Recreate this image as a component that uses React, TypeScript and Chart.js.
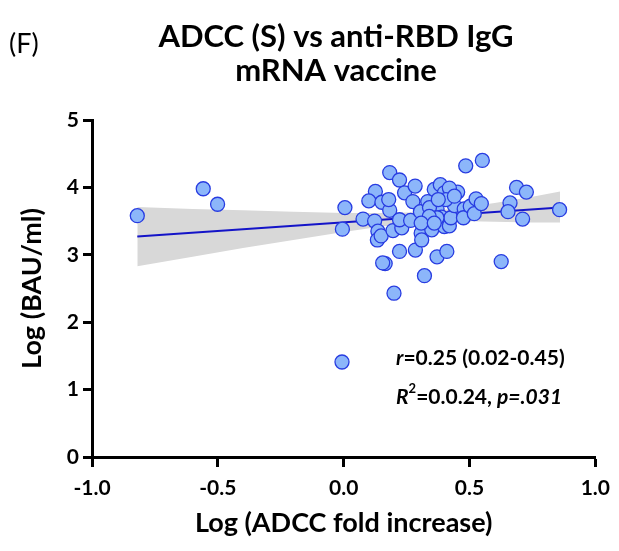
import React, { useEffect, useRef } from "react";
import { Chart, registerables } from "chart.js";

Chart.register(...registerables);

// ---- data ----
const adccX = [
  0.005, -0.005, 0.077, 0.126, 0.10, 0.123, 0.152, 0.183, 0.179, 0.136,
  0.134, 0.149, 0.183, 0.222, 0.242, 0.284, 0.275, 0.196, 0.231, 0.222,
  0.266, 0.222, 0.285, 0.165, 0.155, 0.20, 0.321, 0.371, 0.41, 0.308,
  0.31, 0.305, 0.334, 0.36, 0.384, 0.40, 0.371, 0.341, 0.35, 0.389,
  0.40, 0.42, 0.426, 0.44, 0.453, 0.42, 0.406, 0.479, 0.476, 0.503,
  0.519, 0.526, 0.547, 0.485, 0.551, 0.626, 0.661, 0.653, 0.687, 0.726,
  0.711, 0.858, 0.341, 0.376, 0.371, 0.44, 0.34, 0.308, 0.36, -0.82,
  -0.558, -0.501,
];
const igGY = [
  3.70, 3.38, 3.53, 3.94, 3.80, 3.50, 3.78, 3.66, 3.82, 3.35,
  3.22, 3.28, 4.22, 4.11, 3.92, 4.02, 3.79, 3.36, 3.40, 3.52,
  3.51, 3.05, 3.07, 2.87, 2.88, 2.43, 2.69, 2.97, 3.05, 3.32,
  3.22, 3.64, 3.79, 3.97, 4.04, 3.92, 3.68, 3.52, 3.37, 3.56,
  3.42, 3.43, 3.55, 3.73, 3.93, 3.99, 3.82, 3.68, 3.55, 3.72,
  3.61, 3.83, 3.76, 4.32, 4.40, 2.90, 3.77, 3.64, 4.00, 3.93,
  3.53, 3.67, 3.70, 3.82, 3.55, 3.87, 3.57, 3.47, 3.47, 3.58,
  3.98, 3.75,
];
const fitX = [-0.82, 0.86];
const fitY = [3.27, 3.70];
const bandX = [-0.82, -0.6, -0.4, -0.2, 0, 0.15, 0.3, 0.45, 0.6, 0.75, 0.86];
const bandUpper = [3.71, 3.68, 3.66, 3.64, 3.62, 3.62, 3.63, 3.69, 3.77, 3.86, 3.94];
const bandLower = [2.83, 2.97, 3.10, 3.22, 3.34, 3.42, 3.48, 3.50, 3.49, 3.48, 3.48];
const xRange = [-1, 1];
const yRange = [0, 5];
const titleLines = ["ADCC (S) vs anti-RBD IgG", "mRNA vaccine"];
const panelLabel = "(F)";
const xTitle = "Log (ADCC fold increase)";
const yTitle = "Log (BAU/ml)";

const FONT = "Lato, 'Open Sans', 'DejaVu Sans', sans-serif";
const POINT_FILL = "rgb(140,182,250)";
const POINT_BORDER = "rgb(40,60,225)";

type Seg = { t: string; italic?: boolean; sup?: boolean };

const overlayPlugin = {
  id: "overlay",
  afterDraw(chart: any) {
    const ctx = chart.ctx as CanvasRenderingContext2D;
    const area = chart.chartArea;
    ctx.save();
    ctx.fillStyle = "#000";
    // panel label
    ctx.font = `400 27px ${FONT}`;
    ctx.textAlign = "left";
    ctx.textBaseline = "middle";
    ctx.fillText(panelLabel, 9, 44);
    // title
    ctx.font = `700 31px ${FONT}`;
    ctx.textAlign = "center";
    ctx.fillText(titleLines[0], 336, 37);
    ctx.fillText(titleLines[1], 336, 71);

    // annotation legend marker
    const mx = area.left + 250;
    const my = 362;
    ctx.beginPath();
    ctx.arc(mx, my, 7, 0, Math.PI * 2);
    ctx.fillStyle = POINT_FILL;
    ctx.fill();
    ctx.lineWidth = 1.3;
    ctx.strokeStyle = POINT_BORDER;
    ctx.stroke();

    const drawSegs = (segs: Seg[], x: number, y: number) => {
      ctx.fillStyle = "#000";
      ctx.textAlign = "left";
      ctx.textBaseline = "middle";
      let cx = x;
      for (const s of segs) {
        const size = s.sup ? 13 : 21;
        ctx.font = `${s.italic ? "italic " : ""}700 ${size}px ${FONT}`;
        ctx.fillText(s.t, cx, s.sup ? y - 8 : y);
        cx += ctx.measureText(s.t).width;
      }
    };
    drawSegs([{ t: "r", italic: true }, { t: "=0.25 (0.02-0.45)" }], area.left + 304, 358);
    drawSegs(
      [
        { t: "R", italic: true },
        { t: "2", sup: true },
        { t: "=0.0.24, " },
        { t: "p=.031", italic: true },
      ],
      area.left + 304,
      397
    );
    ctx.restore();
  },
};

export default function App() {
  const ref = useRef<HTMLCanvasElement | null>(null);
  useEffect(() => {
    document.body.style.margin = "0";
    const canvas = ref.current!;
    const points = adccX.map((x, i) => ({ x, y: igGY[i] }));
    const fit = fitX.map((x, i) => ({ x, y: fitY[i] }));
    const up = bandX.map((x, i) => ({ x, y: bandUpper[i] }));
    const lo = bandX.map((x, i) => ({ x, y: bandLower[i] }));
    const chart = new Chart(canvas, {
      type: "scatter",
      data: {
        datasets: [
          {
            type: "scatter",
            label: "data",
            data: points,
            pointRadius: 7,
            pointBackgroundColor: POINT_FILL,
            pointBorderColor: POINT_BORDER,
            pointBorderWidth: 1.3,
          } as any,
          {
            type: "line",
            label: "fit",
            data: fit,
            borderColor: "rgb(20,20,200)",
            borderWidth: 2,
            pointRadius: 0,
            fill: false,
          },
          {
            type: "line",
            label: "upper",
            data: up,
            borderWidth: 0,
            borderColor: "rgba(0,0,0,0)",
            pointRadius: 0,
            backgroundColor: "rgb(216,216,216)",
            fill: "+1",
          },
          {
            type: "line",
            label: "lower",
            data: lo,
            borderWidth: 0,
            borderColor: "rgba(0,0,0,0)",
            pointRadius: 0,
            fill: false,
          },
        ],
      },
      options: {
        responsive: false,
        animation: false,
        events: [],
        layout: { padding: { top: 120, right: 21, left: 0, bottom: 0 } },
        plugins: {
          legend: { display: false },
          tooltip: { enabled: false },
          title: { display: false },
        },
        scales: {
          x: {
            type: "linear",
            min: xRange[0],
            max: xRange[1],
            afterFit: (s: any) => {
              s.height = 94;
            },
            border: { display: true, color: "#000", width: 3 },
            grid: {
              drawOnChartArea: false,
              drawTicks: true,
              tickLength: 10,
              tickWidth: 3,
              tickColor: "#000",
            },
            ticks: {
              stepSize: 0.5,
              color: "#000",
              padding: 9,
              font: { family: FONT, size: 21, weight: "bold" },
              callback: (v: any) => Number(v).toFixed(1),
            },
            title: {
              display: true,
              text: xTitle,
              color: "#000",
              font: { family: FONT, size: 27, weight: "bold" },
              padding: { top: 0, bottom: 12 },
            },
          },
          y: {
            type: "linear",
            min: yRange[0],
            max: yRange[1],
            afterFit: (s: any) => {
              s.width = 92;
            },
            border: { display: true, color: "#000", width: 3 },
            grid: {
              drawOnChartArea: false,
              drawTicks: true,
              tickLength: 9,
              tickWidth: 3,
              tickColor: "#000",
            },
            ticks: {
              stepSize: 1,
              color: "#000",
              padding: 4,
              font: { family: FONT, size: 21, weight: "bold" },
            },
            title: {
              display: true,
              text: yTitle,
              color: "#000",
              font: { family: FONT, size: 27, weight: "bold" },
              padding: { top: 16, bottom: 0 },
            },
          },
        },
      } as any,
      plugins: [overlayPlugin],
    });
    return () => chart.destroy();
  }, []);
  return <canvas ref={ref} width={619} height={551} style={{ display: "block" }} />;
}
